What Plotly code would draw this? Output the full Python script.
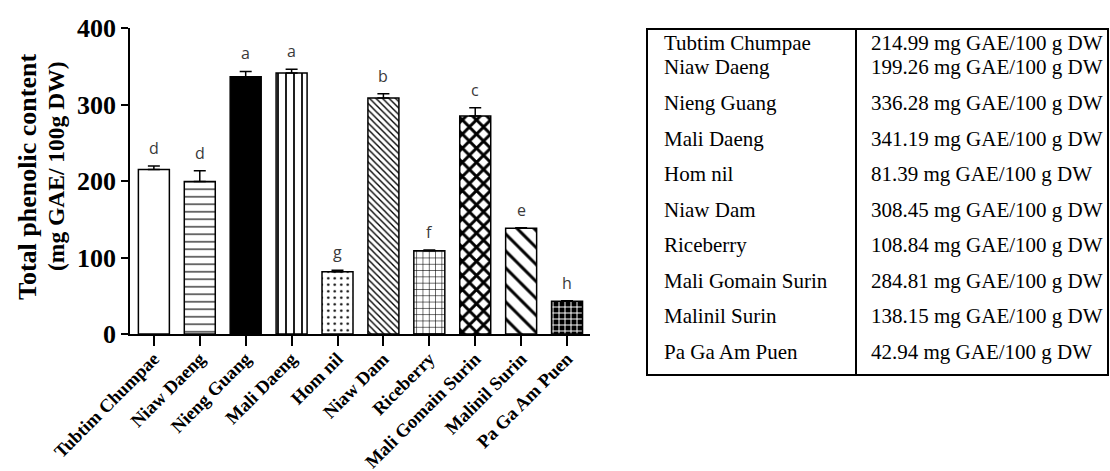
import plotly.graph_objects as go

# ---------------- data ----------------
categories = ["Tubtim Chumpae", "Niaw Daeng", "Nieng Guang", "Mali Daeng", "Hom nil",
              "Niaw Dam", "Riceberry", "Mali Gomain Surin", "Malinil Surin", "Pa Ga Am Puen"]
values = [214.99, 199.26, 336.28, 341.19, 81.39, 308.45, 108.84, 284.81, 138.15, 42.94]
errors = [4.5, 14.0, 7.0, 5.0, 2.0, 5.5, 1.0, 11.0, 0.6, 0.6]
letters = ["d", "d", "a", "a", "g", "b", "f", "c", "e", "h"]
y_ticks = [0, 100, 200, 300, 400]
unit_text = "mg GAE/100 g DW"

# ---------------- styles ----------------
pat_shape = ["", "-", "-", "|", ".", "\\", "+", "x", "\\", "+"]
pat_size = [8, 7.5, 8, 8, 6.5, 4.6, 6.3, 10, 12, 6]
pat_solid = [0.2, 0.15, 0.5, 0.22, 0.12, 0.3, 0.17, 0.5, 0.25, 0.3]
pat_fg = ["black"] * 9 + ["white"]
pat_bg = ["white", "white", "black", "white", "white", "white", "white", "white", "white", "black"]

SERIF = "Liberation Serif"

# plot area in pixels
L, R, T, B = 130, 590, 28, 334
W, H = 1110, 471


def xp(px):
    return (px - L) / (R - L)


def yp(py):
    return (B - py) / (B - T)


fig = go.Figure()
fig.add_trace(go.Bar(
    x=categories, y=values,
    marker=dict(color="white", line=dict(color="black", width=1.5),
                pattern=dict(shape=pat_shape, size=pat_size, solidity=pat_solid,
                             fgcolor=pat_fg, bgcolor=pat_bg, fillmode="replace")),
    error_y=dict(type="data", array=errors, arrayminus=[0] * len(errors), symmetric=False,
                 color="black", thickness=1.5, width=6),
    showlegend=False,
))

annotations = []
for c, v, e, l in zip(categories, values, errors, letters):
    annotations.append(dict(x=c, y=v + e, xref="x", yref="y", text=l, showarrow=False,
                            yanchor="bottom", yshift=5,
                            font=dict(family="Open Sans", size=16, color="#3a3a3a")))

# y-axis title (two lines)
annotations.append(dict(x=xp(27), y=yp(177), xref="paper", yref="paper", text="<b>Total phenolic content</b>",
                        textangle=-90, showarrow=False, xanchor="center", yanchor="middle",
                        font=dict(family=SERIF, size=26, color="black")))
annotations.append(dict(x=xp(56), y=yp(166), xref="paper", yref="paper", text="<b>(mg GAE/ 100g DW)</b>",
                        textangle=-90, showarrow=False, xanchor="center", yanchor="middle",
                        font=dict(family=SERIF, size=23.5, color="black")))

# ---------------- table ----------------
tab_left, tab_right, tab_top, tab_bot, tab_div = 647, 1108, 29, 375, 856
first_lines = [tab_top + 14.3, tab_top + 37.7]
row_h = 35.5
first_bottom = 85.5
row_centers = first_lines + [first_bottom + row_h * (k + 0.5) for k in range(len(categories) - 2)]
for name, v, cy in zip(categories, values, row_centers):
    annotations.append(dict(x=xp(662), y=yp(cy), xref="paper", yref="paper", text=name, showarrow=False,
                            xanchor="left", yanchor="middle",
                            font=dict(family=SERIF, size=21, color="black")))
    annotations.append(dict(x=xp(869), y=yp(cy), xref="paper", yref="paper", text=f"{v:.2f} {unit_text}",
                            showarrow=False, xanchor="left", yanchor="middle",
                            font=dict(family=SERIF, size=21, color="black")))

shapes = [
    dict(type="rect", xref="paper", yref="paper", x0=xp(tab_left), x1=xp(tab_right),
         y0=yp(tab_bot), y1=yp(tab_top), line=dict(color="black", width=2), fillcolor="rgba(0,0,0,0)"),
    dict(type="line", xref="paper", yref="paper", x0=xp(tab_div), x1=xp(tab_div),
         y0=yp(tab_bot), y1=yp(tab_top), line=dict(color="black", width=2)),
]

fig.update_layout(
    width=W, height=H,
    margin=dict(l=L, r=W - R, t=T, b=H - B, pad=0, autoexpand=False),
    paper_bgcolor="white", plot_bgcolor="white",
    bargap=0.325,
    annotations=annotations, shapes=shapes,
    font=dict(family=SERIF, color="black"),
)
fig.update_xaxes(range=[-0.52, 9.5], showline=True, linecolor="black", linewidth=1.5,
                 ticks="outside", ticklen=10, tickwidth=1.5, tickcolor="black",
                 tickangle=-45, tickfont=dict(family=SERIF, size=18.5, color="black", weight="bold"),
                 ticklabelstandoff=-5, automargin=False,
                 showgrid=False, zeroline=False)
fig.update_yaxes(range=[0, 400], tickvals=y_ticks, showline=True, linecolor="black", linewidth=1.5,
                 ticks="outside", ticklen=7, tickwidth=1.5, tickcolor="black",
                 tickfont=dict(family=SERIF, size=26, color="black", weight="bold"),
                 automargin=False, showgrid=False, zeroline=False)

fig.write_html("out.html")
